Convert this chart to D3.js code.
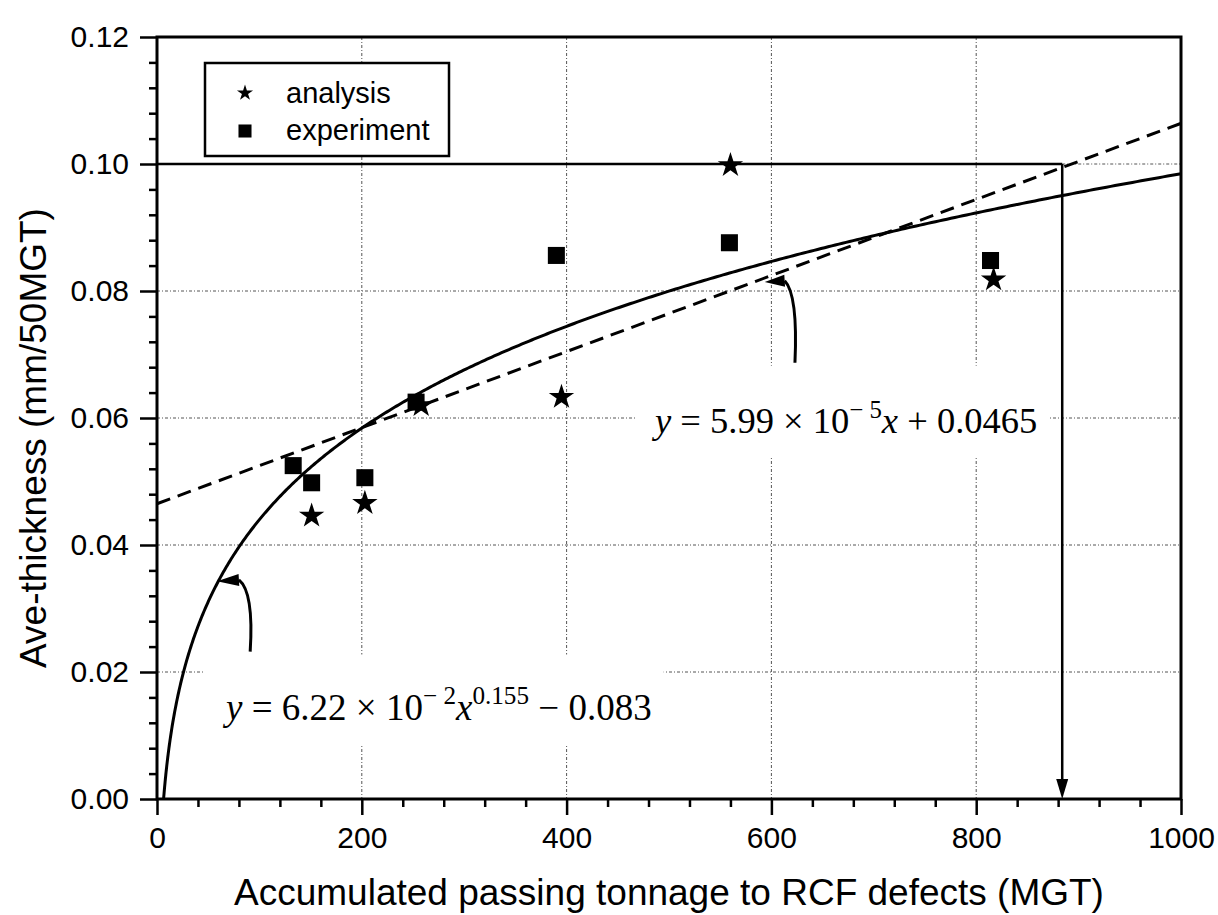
<!DOCTYPE html>
<html>
<head>
<meta charset="utf-8">
<script src="https://cdn.jsdelivr.net/npm/d3@7"></script>
<style>
  html, body { margin: 0; padding: 0; background: #fff; }
  svg { display: block; }
  .tick text { font-family: "Liberation Sans", Arial, sans-serif; font-size: 30px; fill: #000; }
  .eq { font-family: "Liberation Serif", "DejaVu Serif", serif; fill: #000; }
</style>
</head>
<body>
<svg id="chart" width="1218" height="915"></svg>
<script>
// ---- data ----
const xTicks = [0, 200, 400, 600, 800, 1000];
const yTicks = [0.00, 0.02, 0.04, 0.06, 0.08, 0.10, 0.12];
const xMinorStep = 40;
const yMinorStep = 0.004;

const analysisX = [151, 203, 258, 395, 560, 817];
const analysisY = [0.0446, 0.0466, 0.0620, 0.0633, 0.0998, 0.0818];

const experimentX = [133, 151, 203, 253, 390, 559, 814];
const experimentY = [0.0525, 0.0498, 0.0506, 0.0625, 0.0856, 0.0876, 0.0848];

// fitted curves: y = a*x^b - c  and  y = m*x + k
const powerCoef = [6.22e-2, 0.155, 0.083];
const linearCoef = [5.99e-5, 0.0465];

const limitY = 0.10;
const limitX = 884;

// curved pointer arrows: [tipX, tipY, baseX, baseY, ctrlX, ctrlY, tailX, tailY]
const pointerLinear = [593.5, 0.0814, 613, 0.0816, 626, 0.0794, 623, 0.0687];
const pointerPower  = [58.6, 0.0343, 80, 0.0345, 94.7, 0.0326, 91, 0.0232];

const legendLabels = ["analysis", "experiment"];

// ---- layout ----
const svg = d3.select("#chart");
const x = d3.scaleLinear().domain([0, 1000]).range([157, 1181]);
const y = d3.scaleLinear().domain([0, 0.12]).range([799, 37]);

const fPower = v => powerCoef[0] * Math.pow(v, powerCoef[1]) - powerCoef[2];
const fLinear = v => linearCoef[0] * v + linearCoef[1];

// ---- grid ----
const grid = svg.append("g").attr("stroke", "#555").attr("stroke-width", 1)
  .attr("stroke-dasharray", "3,2,1,2").attr("fill", "none");
xTicks.filter(v => v > 0 && v < 1000).forEach(v => {
  grid.append("line").attr("x1", x(v)).attr("x2", x(v)).attr("y1", y(0.12)).attr("y2", y(0));
});
yTicks.filter(v => v > 0 && v < 0.1).forEach(v => {
  grid.append("line").attr("x1", x(0)).attr("x2", x(1000)).attr("y1", y(v)).attr("y2", y(v));
});
grid.append("line").attr("x1", x(limitX)).attr("x2", x(1000)).attr("y1", y(limitY)).attr("y2", y(limitY));

// ---- equation labels (white backing hides grid) ----
function equation(parts, px, py, size, pad) {
  const g = svg.append("g");
  const bg = g.append("rect").attr("fill", "#fff");
  const t = g.append("text").attr("class", "eq").attr("x", px).attr("y", py)
    .attr("font-size", size);
  parts.forEach(p => {
    const s = t.append("tspan").text(p.t);
    if (p.i) s.attr("font-style", "italic");
    if (p.sup) s.attr("font-size", size * 0.68).attr("dy", -size * 0.42);
    if (p.down) s.attr("dy", size * 0.42);
    if (p.dx) s.attr("dx", p.dx);
  });
  const b = t.node().getBBox();
  bg.attr("x", b.x - pad[3]).attr("y", b.y - pad[0])
    .attr("width", b.width + pad[1] + pad[3]).attr("height", b.height + pad[0] + pad[2]);
}

equation([
  {t: "y", i: true}, {t: " = 5.99 × 10"}, {t: "− 5", sup: true}, {t: "x", i: true, down: true},
  {t: " + 0.0465"}
], 655, 433, 36.5, [30, 12, 16, 16]);

equation([
  {t: "y", i: true}, {t: " = 6.22 × 10"}, {t: "− 2", sup: true}, {t: "x", i: true, down: true},
  {t: "0.155", sup: true}, {t: " − 0.083", down: true}
], 226, 720, 37, [28, 12, 18, 18]);

// ---- limit line and drop arrow ----
svg.append("line").attr("x1", x(0)).attr("x2", x(limitX)).attr("y1", y(limitY)).attr("y2", y(limitY))
  .attr("stroke", "#000").attr("stroke-width", 2.5);
svg.append("line").attr("x1", x(limitX)).attr("x2", x(limitX)).attr("y1", y(limitY)).attr("y2", y(0) - 16)
  .attr("stroke", "#000").attr("stroke-width", 2.5);
svg.append("path")
  .attr("d", `M${x(limitX)},${y(0)} L${x(limitX) - 6},${y(0) - 20} L${x(limitX) + 6},${y(0) - 20} Z`)
  .attr("fill", "#000");

// ---- fitted curves ----
const powerStart = Math.pow(powerCoef[2] / powerCoef[0], 1 / powerCoef[1]);
const powerXs = d3.range(0, 1.0001, 0.002).map(t => powerStart + (1000 - powerStart) * Math.pow(t, 2.2));
svg.append("path")
  .attr("d", d3.line().x(d => x(d)).y(d => y(Math.max(0, fPower(d))))(powerXs))
  .attr("fill", "none").attr("stroke", "#000").attr("stroke-width", 3);

svg.append("path")
  .attr("d", d3.line().x(d => x(d)).y(d => y(fLinear(d)))([0, 1000]))
  .attr("fill", "none").attr("stroke", "#000").attr("stroke-width", 3)
  .attr("stroke-dasharray", "14,8");

// ---- pointer arrows ----
function pointer(a) {
  const [tx, ty, bx, by, cx, cy, sx, sy] = a;
  svg.append("path")
    .attr("d", `M${x(sx)},${y(sy)} Q${x(cx)},${y(cy)} ${x(bx)},${y(by)}`)
    .attr("fill", "none").attr("stroke", "#000").attr("stroke-width", 3);
  const dx = x(bx) - x(tx), dy = y(by) - y(ty);
  const len = Math.hypot(dx, dy), ux = dx / len, uy = dy / len;
  const w = 6;
  svg.append("path")
    .attr("d", `M${x(tx)},${y(ty)} L${x(bx) - uy * w},${y(by) + ux * w} L${x(bx) + uy * w},${y(by) - ux * w} Z`)
    .attr("fill", "#000");
}
pointer(pointerLinear);
pointer(pointerPower);

// ---- markers ----
const star = d3.symbol(d3.symbolStar);
const square = d3.symbol(d3.symbolSquare);
svg.append("g").selectAll("path").data(experimentX.map((v, i) => [v, experimentY[i]]))
  .join("path").attr("transform", d => `translate(${x(d[0])},${y(d[1])})`)
  .attr("d", square.size(290)).attr("fill", "#000");
svg.append("g").selectAll("path").data(analysisX.map((v, i) => [v, analysisY[i]]))
  .join("path").attr("transform", d => `translate(${x(d[0])},${y(d[1])})`)
  .attr("d", star.size(200)).attr("fill", "#000");

// ---- frame ----
svg.append("rect").attr("x", x(0)).attr("y", y(0.12)).attr("width", x(1000) - x(0))
  .attr("height", y(0) - y(0.12)).attr("fill", "none").attr("stroke", "#000").attr("stroke-width", 3);

// ---- axes ----
const xMinor = d3.range(0, 1000.1, xMinorStep).filter(v => !xTicks.includes(v));
const yMinor = d3.range(0, 0.1201, yMinorStep).map(v => +v.toFixed(3)).filter(v => !yTicks.some(t => Math.abs(t - v) < 1e-6));

const xAxis = svg.append("g").attr("transform", `translate(0,${y(0)})`)
  .call(d3.axisBottom(x).tickValues(xTicks).tickSize(16).tickPadding(12).tickFormat(d3.format("d")));
const xAxisMinor = svg.append("g").attr("transform", `translate(0,${y(0)})`)
  .call(d3.axisBottom(x).tickValues(xMinor).tickSize(8).tickFormat(""));
const yAxis = svg.append("g").attr("transform", `translate(${x(0)},0)`)
  .call(d3.axisLeft(y).tickValues(yTicks).tickSize(17).tickPadding(11).tickFormat(d3.format(".2f")));
const yAxisMinor = svg.append("g").attr("transform", `translate(${x(0)},0)`)
  .call(d3.axisLeft(y).tickValues(yMinor).tickSize(8).tickFormat(""));
[xAxis, xAxisMinor, yAxis, yAxisMinor].forEach(g => {
  g.select(".domain").remove();
  g.selectAll(".tick line").attr("stroke", "#000").attr("stroke-width", 2.5);
});

// ---- axis titles ----
svg.append("text").attr("x", (x(0) + x(1000)) / 2).attr("y", 905).attr("text-anchor", "middle")
  .attr("font-family", "Liberation Sans, Arial, sans-serif").attr("font-size", 37)
  .text("Accumulated passing tonnage to RCF defects (MGT)");
svg.append("text").attr("transform", "translate(46,438) rotate(-90)").attr("text-anchor", "middle")
  .attr("font-family", "Liberation Sans, Arial, sans-serif").attr("font-size", 37)
  .text("Ave-thickness (mm/50MGT)");

// ---- legend ----
const lg = svg.append("g");
lg.append("rect").attr("x", 205).attr("y", 63).attr("width", 244).attr("height", 93)
  .attr("fill", "#fff").attr("stroke", "#000").attr("stroke-width", 2.5);
lg.append("path").attr("transform", "translate(245,93)").attr("d", star.size(80)).attr("fill", "#000");
lg.append("path").attr("transform", "translate(245,131)").attr("d", square.size(170)).attr("fill", "#000");
legendLabels.forEach((s, i) => {
  lg.append("text").attr("x", 286).attr("y", 103 + i * 37)
    .attr("font-family", "Liberation Sans, Arial, sans-serif").attr("font-size", 29).text(s);
});
</script>
</body>
</html>
